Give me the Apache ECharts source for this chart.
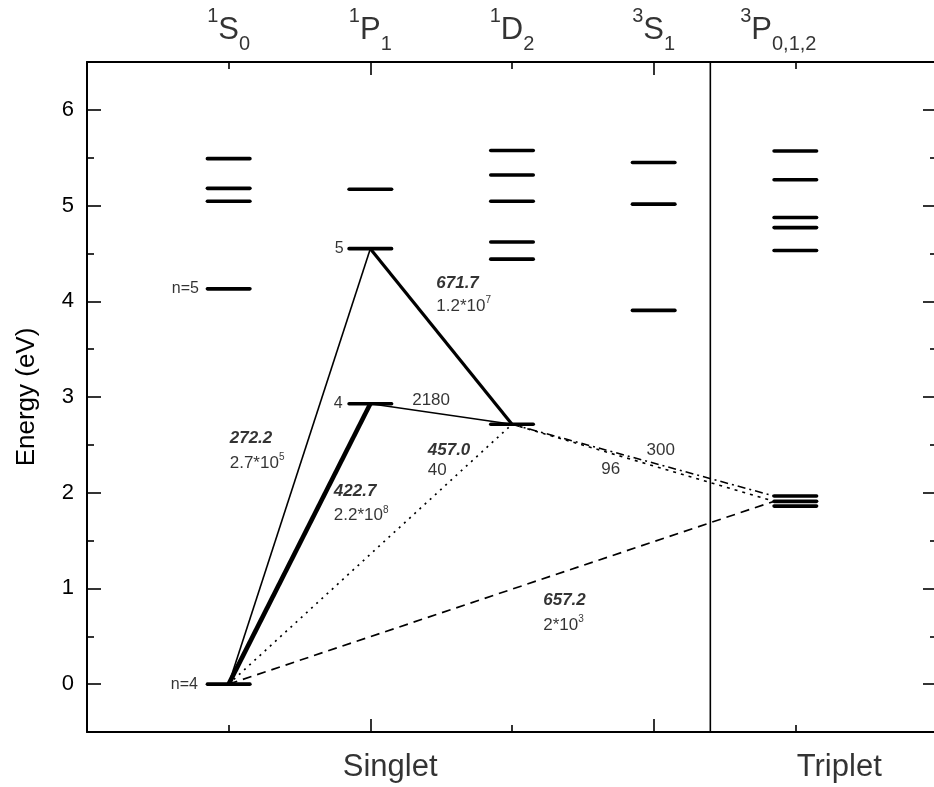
<!DOCTYPE html>
<html><head><meta charset="utf-8">
<script src="https://cdn.jsdelivr.net/npm/echarts@6/dist/echarts.min.js"></script>
<style>html,body{margin:0;padding:0;background:#fff}#c{width:934px;height:787px}</style>
</head><body><div id="c"></div>
<script>
// ---- data ----
const termX = [1, 2, 3, 4, 5];
const termSup = ['1', '1', '1', '3', '3'];
const termLetter = ['S', 'P', 'D', 'S', 'P'];
const termSub = ['0', '1', '2', '1', '0,1,2'];
const levels1S0 = [0, 4.13, 5.045, 5.18, 5.49];
const levels1P1 = [2.93, 4.55, 5.17];
const levels1D2 = [2.715, 4.44, 4.62, 5.045, 5.32, 5.575];
const levels3S1 = [3.905, 5.015, 5.45];
const levels3P = [1.86, 1.91, 1.965, 4.53, 4.77, 4.875, 5.27, 5.57];
const yTicks = [0, 1, 2, 3, 4, 5, 6];
const yMinorTicks = [0.5, 1.5, 2.5, 3.5, 4.5, 5.5];
const groupNames = ['Singlet', 'Triplet'];
const dividerX = 4.4;
const wavelengths = ['272.2', '422.7', '457.0', '671.7', '657.2'];
const coefBase = ['2.7*10', '2.2*10', '40', '1.2*10', '2*10'];
const coefExp = ['5', '8', '', '7', '3'];
const otherRates = ['2180', '300', '96'];
const levelNames = ['n=5', 'n=4', '5', '4'];

// ---- build ----
const levelSets = [levels1S0, levels1P1, levels1D2, levels3S1, levels3P];
const HALF = 0.15;
const FONT = '"Liberation Sans", Arial, Helvetica, sans-serif';
const levelData = [];
levelSets.forEach((arr, i) => arr.forEach(e => levelData.push([termX[i], e])));

function pt(term, lvl, edge) {
  return [termX[term] + (edge || 0), levelSets[term][lvl]];
}
const transitions = [
  { d: [pt(0, 0), pt(1, 1)], w: 1.6, t: 'solid' },          // 272.2
  { d: [pt(0, 0), pt(1, 0)], w: 4.6, t: 'solid' },          // 422.7
  { d: [pt(1, 1), pt(2, 0)], w: 3.2, t: 'solid' },          // 671.7
  { d: [pt(1, 0), pt(2, 0)], w: 1.5, t: 'solid' },          // 2180
  { d: [pt(0, 0), pt(2, 0)], w: 1.7, t: [2, 5] },           // 457.0
  { d: [pt(0, 0), pt(4, 1, -HALF)], w: 1.7, t: [9, 6] },    // 657.2
  { d: [pt(2, 0), pt(4, 2, -HALF)], w: 1.6, t: [8, 4, 2, 4] }, // 300
  { d: [pt(2, 0), pt(4, 1, -HALF)], w: 1.6, t: [3, 5] }     // 96
];

const rich = {
  w: { fontFamily: FONT, fontSize: 17, fontWeight: 'bold', fontStyle: 'italic', color: '#000' },
  n: { fontFamily: FONT, fontSize: 17, color: '#000', lineHeight: 22 },
  s: { fontFamily: FONT, fontSize: 10, color: '#000', lineHeight: 14, verticalAlign: 'top' }
};
function coef(i) { return '{n|' + coefBase[i] + '}' + (coefExp[i] ? '{s|' + coefExp[i] + '}' : ''); }

const annotations = [
  { at: [1.004, 2.567], text: '{w|' + wavelengths[0] + '}' },
  { at: [1.004, 2.306], text: coef(0) },
  { at: [1.739, 2.010], text: '{w|' + wavelengths[1] + '}' },
  { at: [1.739, 1.759], text: coef(1) },
  { at: [2.402, 2.446], text: '{w|' + wavelengths[2] + '}' },
  { at: [2.402, 2.237], text: coef(2) },
  { at: [2.462, 4.191], text: '{w|' + wavelengths[3] + '}' },
  { at: [2.462, 3.951], text: coef(3) },
  { at: [3.217, 0.879], text: '{w|' + wavelengths[4] + '}' },
  { at: [3.217, 0.617], text: coef(4) },
  { at: [2.292, 2.968], text: '{n|' + otherRates[0] + '}' },
  { at: [3.946, 2.446], text: '{n|' + otherRates[1] + '}' },
  { at: [3.626, 2.244], text: '{n|' + otherRates[2] + '}' }
];
const annoData = annotations.map(a => ({
  value: a.at,
  label: { show: true, position: 'right', distance: 0, formatter: a.text, rich: rich, color: '#000' }
}));
// level names on the left of level bars
const levelNameData = [
  { value: pt(0, 1, -HALF), name: levelNames[0], dist: 8 },
  { value: pt(0, 0, -HALF), name: levelNames[1], dist: 9 },
  { value: pt(1, 1, -HALF), name: levelNames[2], dist: 5 },
  { value: pt(1, 0, -HALF), name: levelNames[3], dist: 6 }
].map(o => ({
  value: o.value,
  label: { show: true, position: 'left', distance: o.dist, formatter: o.name,
           fontFamily: FONT, fontSize: 16, color: '#000' }
}));

// term labels on top
const termLabelX = [1, 2, 3, 4, 4.88];
const termRich = {
  sup: { fontFamily: FONT, fontSize: 20, color: '#000', lineHeight: 38, verticalAlign: 'top' },
  m: { fontFamily: FONT, fontSize: 31, color: '#000', lineHeight: 48 },
  sub: { fontFamily: FONT, fontSize: 20, color: '#000', lineHeight: 19, verticalAlign: 'bottom' }
};
const termData = termX.map((x, i) => ({
  value: [termLabelX[i], 6.5],
  label: { show: true, position: 'top', distance: 7, color: '#000',
           formatter: '{sup|' + termSup[i] + '}{m|' + termLetter[i] + '}{sub|' + termSub[i] + '}',
           rich: termRich }
}));
const groupX = [2.14, 5.31];
const groupData = groupNames.map((g, i) => ({
  value: [groupX[i], -0.5],
  label: { show: true, position: 'bottom', distance: 17, formatter: g,
           fontFamily: FONT, fontSize: 31, color: '#000', lineHeight: 36 }
}));

const axLine = { show: true, onZero: false, lineStyle: { color: '#000', width: 2 } };
const tickStyle = { color: '#000', width: 1.6 };
function xAx(pos) {
  return {
    type: 'value', position: pos, min: 0, max: 6, interval: 2, gridIndex: 0,
    axisLine: axLine,
    axisTick: { show: true, inside: true, length: 13, lineStyle: tickStyle },
    minorTick: { show: true, splitNumber: 2, length: 7, lineStyle: tickStyle },
    axisLabel: { show: false }, splitLine: { show: false }, minorSplitLine: { show: false }
  };
}
function yAx(pos, major, withLabel, withLine) {
  return {
    type: 'value', position: pos, min: -0.5, max: 6.5, gridIndex: 0,
    axisLine: withLine ? axLine : { show: false, onZero: false },
    axisTick: { show: true, inside: true, length: major ? 14 : 7, lineStyle: tickStyle,
                customValues: major ? yTicks : yMinorTicks },
    axisLabel: withLabel ? { show: true, customValues: yTicks, margin: 13,
                             fontFamily: FONT, fontSize: 22, color: '#000' } : { show: false },
    splitLine: { show: false },
    name: withLabel ? 'Energy (eV)' : '',
    nameLocation: 'middle', nameRotate: 90, nameGap: 47,
    nameTextStyle: { fontFamily: FONT, fontSize: 26, color: '#000' }
  };
}

const series = [];
transitions.forEach(tr => series.push({
  type: 'line', data: tr.d, showSymbol: false, symbol: 'none', z: 2, silent: true,
  lineStyle: { color: '#000', width: tr.w, type: tr.t }
}));
series.push({
  type: 'line', data: [[dividerX, -0.5], [dividerX, 6.5]], symbol: 'none', z: 2, silent: true,
  lineStyle: { color: '#000', width: 1.6 }
});
series.push({
  type: 'custom', z: 3, silent: true, data: levelData, encode: { x: 0, y: 1 },
  renderItem: function (params, api) {
    const x = api.value(0), e = api.value(1);
    const a = api.coord([x - HALF, e]), b = api.coord([x + HALF, e]);
    return { type: 'line', shape: { x1: a[0], y1: a[1], x2: b[0], y2: b[1] },
             style: { stroke: '#000', lineWidth: 3.6, lineCap: 'round' } };
  }
});
[annoData, levelNameData, termData, groupData].forEach(d => series.push({
  type: 'scatter', data: d, symbolSize: 1, clip: false, z: 4, silent: true,
  itemStyle: { color: 'rgba(0,0,0,0)' }
}));

const chart = echarts.init(document.getElementById('c'), null, { renderer: 'canvas' });
chart.setOption({
  animation: false,
  backgroundColor: '#fff',
  grid: { left: 87, top: 62, width: 850, height: 670, containLabel: false, outerBoundsMode: 'none' },
  xAxis: [xAx('bottom'), xAx('top')],
  yAxis: [yAx('left', true, true, true), yAx('left', false, false, false),
          yAx('right', true, false, true), yAx('right', false, false, false)],
  series: series
});
</script></body></html>
